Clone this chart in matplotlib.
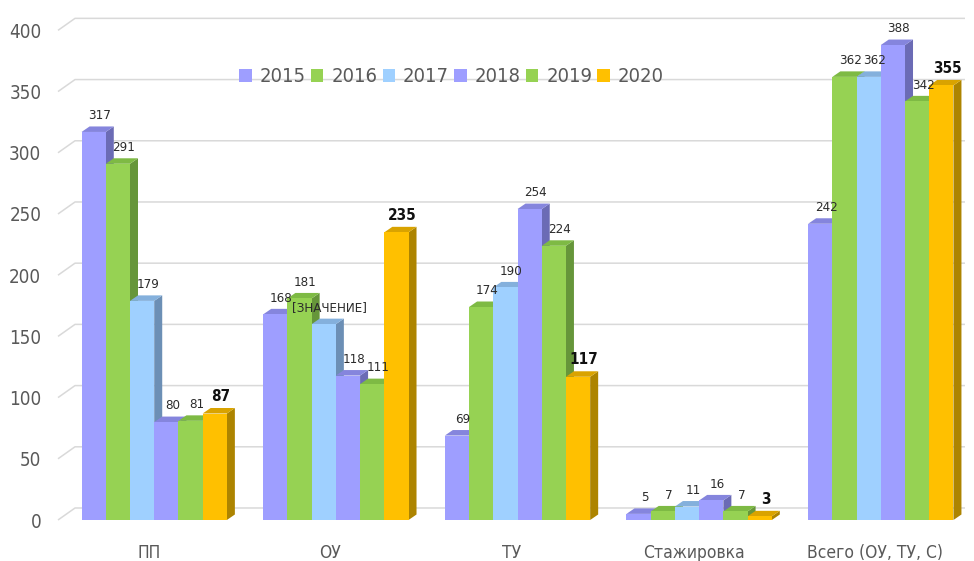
import matplotlib
matplotlib.use('Agg')
import matplotlib.pyplot as plt
from matplotlib.patches import Polygon, Rectangle, Patch
import numpy as np

plt.rcParams['font.family'] = ['DejaVu Sans']
plt.rcParams['font.stretch'] = 'condensed'

# data
categories = ['ПП', 'ОУ', 'ТУ', 'Стажировка', 'Всего (ОУ, ТУ, С)']
years = ['2015', '2016', '2017', '2018', '2019', '2020']
v2015 = [317, 168, 69, 5, 242]
v2016 = [291, 181, 174, 7, 362]
v2017 = [179, 160, 190, 11, 362]
v2018 = [80, 118, 254, 16, 388]
v2019 = [81, 111, 224, 7, 342]
v2020 = [87, 235, 117, 3, 355]
series = [v2015, v2016, v2017, v2018, v2019, v2020]
# one label in the source shows the placeholder instead of the number
label_override = {(1, 2): '[ЗНАЧЕНИЕ]'}
yticks = list(range(0, 401, 50))

front_col = ['#9E9EFF', '#96D253', '#9FD0FF', '#9E9EFF', '#96D253', '#FFC000']
side_col = ['#6B6BB5', '#66963A', '#6C8FB5', '#6B6BB5', '#66963A', '#AD8400']
top_col = ['#8585DD', '#7EBA44', '#84B0DC', '#8585DD', '#7EBA44', '#D9A300']

fig = plt.figure(figsize=(9.74, 5.61), dpi=100)
ax = fig.add_axes([58 / 974, 41 / 561, 907 / 974, 520 / 561])
ax.set_xlim(-0.5297, 4.4636)
ax.set_ylim(0, 424.8)

px_x = 1 / 181.6   # data units per pixel
px_y = 1 / 1.224

# back wall gridlines with the perspective slant on the left
wdx, wdy = 17 * px_x, 12 * px_y
xl, xr = ax.get_xlim()
for v in yticks:
    ax.plot([xl, xl + wdx, xr], [v, v + wdy, v + wdy], color='#D9D9D9',
            lw=1.1, zorder=0, clip_on=False, solid_capstyle='butt')

n = len(series)
w = 0.8 / n
ddx, ddy = 8 * px_x, 5.5 * px_y
for i in range(len(categories)):
    for j in range(n):
        h = series[j][i]
        x0 = i - 0.4 + j * w
        x1 = x0 + w
        z = 2 + j * 3
        ax.add_patch(Polygon([(x1, 0), (x1 + ddx, ddy), (x1 + ddx, h + ddy), (x1, h)],
                             closed=True, fc=side_col[j], ec='none', zorder=z))
        ax.add_patch(Polygon([(x0, h), (x1, h), (x1 + ddx, h + ddy), (x0 + ddx, h + ddy)],
                             closed=True, fc=top_col[j], ec='none', zorder=z + 1))
        ax.add_patch(Rectangle((x0, 0), w, h, fc=front_col[j], ec='none', zorder=z + 2))

for i in range(len(categories)):
    for j in range(n):
        h = series[j][i]
        txt = label_override.get((i, j), str(h))
        xc = i - 0.4 + (j + 0.5) * w + 6 * px_x
        if j == n - 1:
            ax.text(xc, h + 8, txt, ha='center', va='bottom', fontsize=11,
                    fontweight='bold', color='#111111', zorder=50)
        else:
            ax.text(xc, h + 8, txt, ha='center', va='bottom', fontsize=9.5,
                    color='#2B2B2B', zorder=50)

for s in ax.spines.values():
    s.set_visible(False)
ax.set_yticks(yticks)
ax.tick_params(axis='y', length=0, pad=12, labelsize=13.5, labelcolor='#595959')
ax.set_xticks(np.arange(len(categories)) - 0.03)
ax.set_xticklabels(categories)
ax.tick_params(axis='x', length=0, pad=17, labelsize=12.5, labelcolor='#595959')

handles = [Patch(fc=front_col[j], ec='none') for j in range(n)]
ax.legend(handles, years, loc='center', bbox_to_anchor=(0.434, 0.852), ncol=6,
          frameon=False, fontsize=14.5, labelcolor='#595959', handlelength=0.62,
          handleheight=0.62, handletextpad=0.4, columnspacing=0.25, borderpad=0)

fig.savefig('out.png', dpi=100)
